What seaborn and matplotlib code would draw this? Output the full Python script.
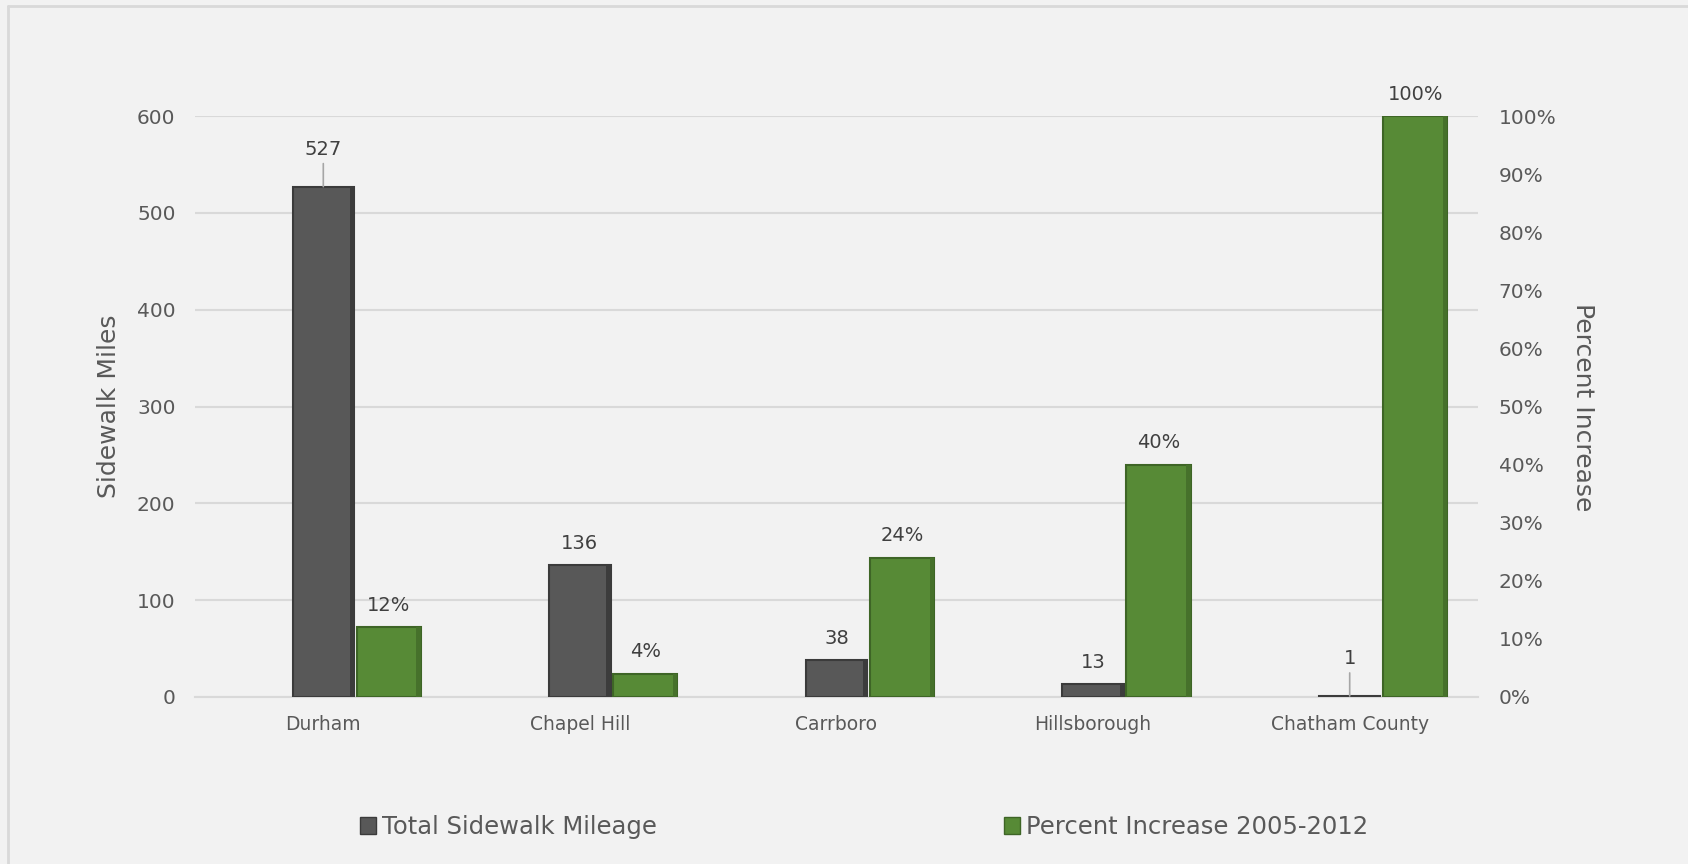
import numpy as np
import pandas as pd
import matplotlib
matplotlib.use("Agg")
import matplotlib.pyplot as plt
import seaborn as sns
from matplotlib.patches import Patch, Rectangle
from matplotlib.lines import Line2D

# ---- data ----
categories = ["Durham", "Chapel Hill", "Carrboro", "Hillsborough", "Chatham County"]
sidewalk_miles = [527, 136, 38, 13, 1]
percent_increase = [0.12, 0.04, 0.24, 0.40, 1.00]
miles_labels = ["527", "136", "38", "13", "1"]
pct_labels = ["12%", "4%", "24%", "40%", "100%"]
left_ticks = [0, 100, 200, 300, 400, 500, 600]
right_ticks = [0.0, 0.1, 0.2, 0.3, 0.4, 0.5, 0.6, 0.7, 0.8, 0.9, 1.0]
leader_idx = [0, 4]  # labels drawn with a leader line

GRAY = "#585858"
GRAY_EDGE = "#3b3b3b"
GRAY_SHADE = "#3c3c3c"
GREEN = "#578a36"
GREEN_EDGE = "#3e6526"
GREEN_SHADE = "#46712b"
TXT = "#595959"
GRID = "#d9d9d9"
BG = "#f2f2f2"

sns.set_theme(style="white")
plt.rcParams["font.family"] = ["DejaVu Sans"]

W, H = 1688, 864
fig = plt.figure(figsize=(W / 100, H / 100), dpi=100, facecolor=BG)
ax = fig.add_axes([195 / W, 1 - 697 / H, (1478 - 195) / W, (697 - 116) / H])
ax.set_facecolor(BG)
ax2 = ax.twinx()

pos = np.arange(len(categories))
df = pd.DataFrame({"pos": pos, "pos2": pos + 0.255,
                   "miles": sidewalk_miles, "pct": percent_increase})

sns.barplot(data=df, x="pos", y="miles", native_scale=True, width=0.24,
            color=GRAY, saturation=1, errorbar=None, ax=ax,
            edgecolor=GRAY_EDGE, linewidth=1.5, zorder=3)
sns.barplot(data=df, x="pos2", y="pct", native_scale=True, width=0.25,
            color=GREEN, saturation=1, errorbar=None, ax=ax2,
            edgecolor=GREEN_EDGE, linewidth=1.5, zorder=3)

# subtle bevel-like darker right strip on each bar (derived from drawn bars)
for a, shade in ((ax, GRAY_SHADE), (ax2, GREEN_SHADE)):
    for p in list(a.patches):
        x0, w, h = p.get_x(), p.get_width(), p.get_height()
        a.add_patch(Rectangle((x0 + w * 0.93, 0), w * 0.07, h, facecolor=shade,
                              edgecolor="none", zorder=3.5))

ax.set_xlim(-0.5, len(categories) - 0.5)
ax.set_ylim(0, 600)
ax2.set_ylim(0, 1.0)

ax.set_yticks(left_ticks)
ax.set_yticklabels([str(t) for t in left_ticks])
ax2.set_yticks(right_ticks)
ax2.set_yticklabels([f"{int(round(t * 100))}%" for t in right_ticks])
ax.set_xticks(pos)
ax.set_xticklabels(categories)

ax.yaxis.grid(True, color=GRID, linewidth=1.5, zorder=0)
ax.xaxis.grid(False)
ax2.grid(False)
ax.set_axisbelow(True)
for a in (ax, ax2):
    for s in a.spines.values():
        s.set_visible(False)
    a.set_xlabel("")
    a.set_ylabel("")
ax.spines["bottom"].set_visible(True)
ax.spines["bottom"].set_color(GRID)
ax.spines["bottom"].set_linewidth(1.5)

ax.tick_params(axis="y", length=0, pad=14, labelsize=14.5, labelcolor=TXT)
ax.tick_params(axis="x", length=0, pad=13, labelsize=13.5, labelcolor=TXT)
ax2.tick_params(axis="y", length=0, pad=15, labelsize=14.5, labelcolor=TXT)

# data labels
for i, (x, v, lab) in enumerate(zip(df["pos"], sidewalk_miles, miles_labels)):
    if i in leader_idx:
        ax.annotate(lab, xy=(x, v), xytext=(0, 20), textcoords="offset points",
                    ha="center", va="bottom", fontsize=14, color="#404040",
                    arrowprops=dict(arrowstyle="-", color="#a6a6a6", lw=1.2,
                                    shrinkA=1, shrinkB=0), zorder=5)
    else:
        ax.annotate(lab, xy=(x, v), xytext=(0, 9), textcoords="offset points",
                    ha="center", va="bottom", fontsize=14, color="#404040", zorder=5)
for x, v, lab in zip(df["pos2"], percent_increase, pct_labels):
    ax2.annotate(lab, xy=(x, v), xytext=(0, 9), textcoords="offset points",
                 ha="center", va="bottom", fontsize=14, color="#404040",
                 annotation_clip=False, zorder=5)

# axis titles
fig.text(109 / W, 1 - 406 / H, "Sidewalk Miles", rotation=90, ha="center",
         va="center", fontsize=18, color=TXT)
fig.text(1583 / W, 1 - 407 / H, "Percent Increase", rotation=270, ha="center",
         va="center", fontsize=18, color=TXT)

# legend (two entries placed apart)
h1 = Patch(facecolor=GRAY, edgecolor=GRAY_EDGE, linewidth=1)
h2 = Patch(facecolor=GREEN, edgecolor=GREEN_EDGE, linewidth=1)
leg_kw = dict(loc="center left", frameon=False, fontsize=17.5, handlelength=0.65,
              handleheight=0.65, handletextpad=0.25, borderpad=0,
              borderaxespad=0, labelcolor=TXT)
fig.legend([h1], ["Total Sidewalk Mileage"],
           bbox_to_anchor=(360 / W, 1 - 827 / H), **leg_kw)
fig.legend([h2], ["Percent Increase 2005-2012"],
           bbox_to_anchor=(1004 / W, 1 - 827 / H), **leg_kw)

# outer border of chart area
fig.add_artist(Line2D([8 / W, 8 / W], [0, 1 - 6 / H], color=GRID, lw=2,
                      transform=fig.transFigure))
fig.add_artist(Line2D([8 / W, 1], [1 - 6 / H, 1 - 6 / H], color=GRID, lw=2,
                      transform=fig.transFigure))

fig.savefig("out.png", dpi=100, facecolor=BG)
